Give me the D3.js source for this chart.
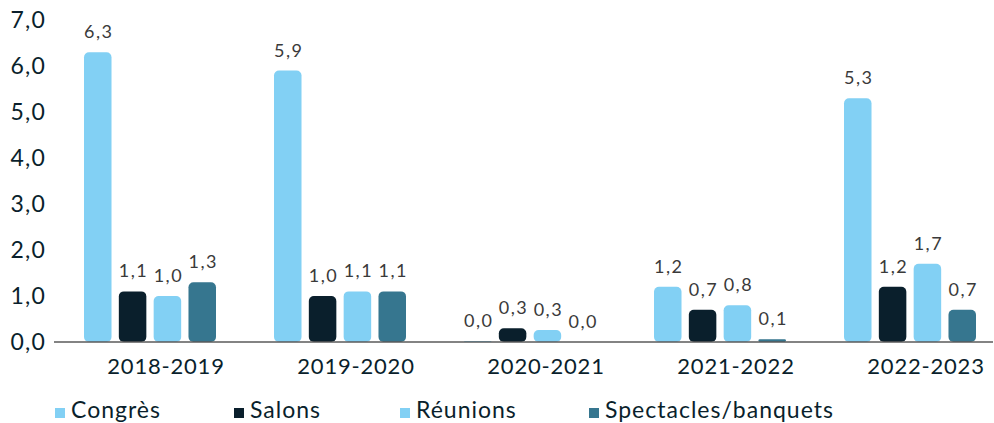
<!DOCTYPE html>
<html>
<head>
<meta charset="utf-8">
<script src="https://cdn.jsdelivr.net/npm/d3@7"></script>
<style>
  body { margin: 0; background: #fff; }
  svg text { font-family: Lato, "Open Sans", sans-serif; }
</style>
</head>
<body>
<div id="chart"></div>
<script>
// Chart data
const seasons = ['2018-2019', '2019-2020', '2020-2021', '2021-2022', '2022-2023'];
const seriesNames = ['Congrès', 'Salons', 'Réunions', 'Spectacles/banquets'];
const seriesColors = ['#82d0f4', '#0a1f2c', '#82d0f4', '#36768f'];
const congres = [6.3, 5.9, 0.02, 1.2, 5.3];
const salons = [1.1, 1.0, 0.3, 0.7, 1.2];
const reunions = [1.0, 1.1, 0.26, 0.8, 1.7];
const spectacles = [1.3, 1.1, 0, 0.06, 0.7];
const yTicks = [0, 1, 2, 3, 4, 5, 6, 7];

const width = 994, height = 423;
const navy = '#0a1f2c';

const svg = d3.select('#chart').append('svg')
  .attr('width', width)
  .attr('height', height);

const x0 = d3.scaleBand().domain(seasons).range([55, 1005]);
const x1 = d3.scaleBand().domain(seriesNames).range([29, 161]).paddingInner(0.21);
const y = d3.scaleLinear().domain([0, 7]).range([342, 20]);

const fmt = v => v.toFixed(1).replace('.', ',');

// y tick labels
svg.append('g').selectAll('text')
  .data(yTicks)
  .join('text')
  .attr('x', 46)
  .attr('y', d => y(d))
  .attr('dy', '0.36em')
  .attr('text-anchor', 'end')
  .attr('fill', navy)
  .style('font-size', '23px')
  .style('letter-spacing', '1.2px')
  .text(fmt);

const allSeries = [congres, salons, reunions, spectacles];
const rows = [];
seasons.forEach((s, i) => {
  seriesNames.forEach((n, j) => {
    rows.push({ season: s, name: n, value: allSeries[j][i], color: seriesColors[j] });
  });
});

// bars
svg.append('g').selectAll('rect')
  .data(rows)
  .join('rect')
  .attr('x', d => x0(d.season) + x1(d.name))
  .attr('y', d => y(d.value))
  .attr('width', x1.bandwidth())
  .attr('height', d => y(0) - y(d.value))
  .attr('rx', d => Math.min(5, (y(0) - y(d.value)) / 2))
  .attr('fill', d => d.color);

// value labels
svg.append('g').selectAll('text')
  .data(rows)
  .join('text')
  .attr('x', d => x0(d.season) + x1(d.name) + x1.bandwidth() / 2 + 1)
  .attr('y', d => y(d.value) - 14)
  .attr('text-anchor', 'middle')
  .attr('fill', '#3a3a3a')
  .style('font-size', '18px')
  .style('letter-spacing', '1.5px')
  .text(d => fmt(d.value));

// baseline
svg.append('line')
  .attr('x1', 54).attr('x2', 993)
  .attr('y1', y(0)).attr('y2', y(0))
  .attr('stroke', '#5a5a5a')
  .attr('stroke-width', 1.5);

// category labels
svg.append('g').selectAll('text')
  .data(seasons)
  .join('text')
  .attr('x', d => x0(d) + x0.bandwidth() / 2 + 16)
  .attr('y', 374)
  .attr('text-anchor', 'middle')
  .attr('fill', navy)
  .style('font-size', '22px')
  .style('letter-spacing', '0.8px')
  .text(d => d);

// legend
const legendX = [55, 234, 400, 589];
const legend = svg.append('g').selectAll('g')
  .data(seriesNames)
  .join('g')
  .attr('transform', (d, i) => `translate(${legendX[i]}, 408)`);

legend.append('rect')
  .attr('width', 10).attr('height', 10)
  .attr('fill', (d, i) => seriesColors[i]);

legend.append('text')
  .attr('x', 16)
  .attr('y', 10)
  .attr('fill', navy)
  .style('font-size', '23px')
  .style('letter-spacing', '1px')
  .text(d => d);
</script>
</body>
</html>
